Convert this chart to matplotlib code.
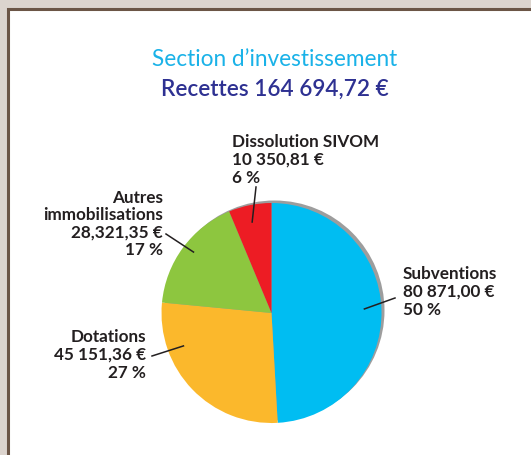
"""
Section d'investissement : répartition des recettes (camembert)
"""

import matplotlib.pyplot as plt
from matplotlib.patches import Rectangle, Circle
import numpy as np

# données
labels = ['Subventions', 'Dotations', 'Autres\nimmobilisations', 'Dissolution SIVOM']
values = [80871.00, 45151.36, 28321.35, 10350.81]
montants = ['80 871,00 €', '45 151,36 €', '28,321,35 €', '10 350,81 €']
pourcents = ['50 %', '27 %', '17 %', '6 %']
colors = ['#00bdf2', '#fbb82c', '#8dc63f', '#ed1c24']

titre = "Section d’investissement"
sous_titre = "Recettes 164 694,72 €"

W, H = 531, 456
plt.rcParams['font.family'] = ['Lato', 'DejaVu Sans']

fig = plt.figure(figsize=(W / 100, H / 100), dpi=100)
fig.patch.set_facecolor('#dcd4ce')

# cadre blanc
fig.patches.append(Rectangle((8 / W, -0.1), 1.2, 1 - 10 / H + 0.1, transform=fig.transFigure,
                             facecolor='white', edgecolor='#6b5546', linewidth=2.2, zorder=-1))

# axe en coordonnées pixels (y vers le haut)
ax = fig.add_axes([0, 0, 1, 1])
ax.patch.set_alpha(0)

cx, cy, r = 271.5, H - 314, 110

# ombre grise
ax.add_patch(Circle((cx + 3, cy + 2.5), r, facecolor='#9d9d9d', edgecolor='none', zorder=1))

wedges, _ = ax.pie(values, colors=colors, startangle=90, counterclock=False,
                   center=(cx, cy), radius=r, wedgeprops=dict(linewidth=0))
for w in wedges:
    w.set_zorder(2)

ax.set_xlim(0, W)
ax.set_ylim(0, H)
ax.set_aspect('equal')
ax.axis('off')

# position des étiquettes : (ancrage dans la part, point du texte, bout du trait, alignement)
layout = [
    (dict(ang=2.5, rad=93), (403, H - 292), (395, H - 299), 'left'),
    (dict(ang=200.5, rad=94), (146, H - 355), (152, H - 357), 'right'),
    (dict(ang=142, rad=99), (163, H - 224), (166, H - 235), 'right'),
    (dict(ang=102, rad=93), (232, H - 160), (256, H - 188), 'left'),
]

for lab, mt, pc, (anc, txt, end, ha) in zip(labels, montants, pourcents, layout):
    a = np.deg2rad(anc['ang'])
    p = (cx + anc['rad'] * np.cos(a), cy + anc['rad'] * np.sin(a))
    ax.plot([p[0], end[0]], [p[1], end[1]], color='#231f20', linewidth=1.1, zorder=3)
    ax.text(txt[0], txt[1], f'{lab}\n{mt}\n{pc}', ha=ha, va='center', fontsize=12.3,
            fontweight='bold', color='#231f20', linespacing=1.12, zorder=4)

ax.text(274.5, H - 59, titre, ha='center', va='center', fontsize=16.3, color='#1ab2e8')
ax.text(274.5, H - 89, sous_titre, ha='center', va='center', fontsize=16.3, color='#2e3192',
        fontweight='semibold')

plt.savefig('out.png', dpi=100, facecolor=fig.get_facecolor())
plt.close()
